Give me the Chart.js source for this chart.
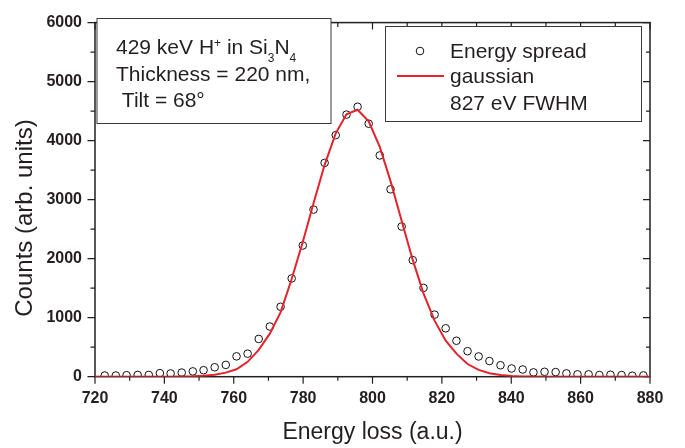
<!DOCTYPE html>
<html>
<head>
<meta charset="utf-8">
<script src="https://cdn.jsdelivr.net/npm/chart.js@4.4.1/dist/chart.umd.min.js"></script>
<style>
  html, body { margin: 0; padding: 0; background: #fff; }
  #wrap { width: 685px; height: 448px; }
</style>
</head>
<body>
<div id="wrap"><canvas id="spreadChart" width="685" height="448"></canvas></div>
<script>
const energyLoss = [722.8, 726.0, 729.1, 732.3, 735.5, 738.7, 741.8, 745.0, 748.2, 751.3,
  754.5, 757.7, 760.8, 764.0, 767.2, 770.4, 773.5, 776.7, 779.9, 783.0,
  786.2, 789.4, 792.5, 795.7, 798.9, 802.1, 805.2, 808.4, 811.6, 814.7,
  817.9, 821.1, 824.2, 827.4, 830.6, 833.7, 836.9, 840.1, 843.3, 846.4,
  849.6, 852.8, 855.9, 859.1, 862.3, 865.4, 868.6, 871.8, 874.9, 878.1];

const counts = [20, 20, 25, 30, 30, 60, 55, 70, 90, 110,
  160, 200, 345, 390, 640, 850, 1185, 1665, 2223, 2832,
  3623, 4093, 4441, 4574, 4287, 3749, 3175, 2545, 1975, 1505,
  1052, 820, 609, 432, 343, 265, 194, 139, 122, 73,
  83, 78, 56, 40, 40, 28, 33, 28, 17, 22];

// fitted gaussian, read at the same energies plus the two axis ends
const fitEnergy = [720].concat(energyLoss, [880]);
const fitCounts = [0, 0, 0, 0, 0, 0, 1, 1, 2, 6, 15,
  33, 69, 125, 252, 455, 730, 1090, 1656, 2283, 2939,
  3590, 4123, 4446, 4523, 4328, 3893, 3314, 2641, 1979, 1412,
  950, 610, 390, 215, 115, 60, 28, 12, 5, 2,
  1, 0, 0, 0, 0, 0, 0, 0, 0, 0, 0];

const xTicks = [720, 740, 760, 780, 800, 820, 840, 860, 880];
const yTicks = [0, 1000, 2000, 3000, 4000, 5000, 6000];

const ink = '#231f20';
const red = '#e3232b';
const family = '"Liberation Sans", Arial, sans-serif';

function toPoints(xs, ys) {
  return xs.map((v, i) => ({ x: v, y: ys[i] }));
}

const framePlugin = {
  id: 'frame',
  beforeDatasetsDraw(chart) {
    const { ctx, chartArea: a, scales: { x, y } } = chart;
    ctx.save();
    ctx.strokeStyle = ink;
    ctx.lineWidth = 1.5;
    ctx.strokeRect(a.left, a.top, a.right - a.left, a.bottom - a.top);

    ctx.lineWidth = 1.2;
    ctx.beginPath();
    const xStep = (xTicks[1] - xTicks[0]) / 2;
    for (let v = xTicks[0]; v <= xTicks[xTicks.length - 1]; v += xStep) {
      const px = x.getPixelForValue(v);
      const major = xTicks.includes(v);
      ctx.moveTo(px, a.bottom);
      ctx.lineTo(px, a.bottom + (major ? 7 : 4));
      ctx.moveTo(px, a.top);
      ctx.lineTo(px, a.top + (major ? 7 : 4.5));
    }
    const yStep = (yTicks[1] - yTicks[0]) / 2;
    for (let v = yTicks[0]; v <= yTicks[yTicks.length - 1]; v += yStep) {
      const py = y.getPixelForValue(v);
      const major = yTicks.includes(v);
      ctx.moveTo(a.left, py);
      ctx.lineTo(a.left - (major ? 7.5 : 4.5), py);
      ctx.moveTo(a.right, py);
      ctx.lineTo(a.right - (major ? 7 : 4), py);
    }
    ctx.stroke();
    ctx.restore();
  },
  afterDraw(chart) {
    const { ctx, chartArea: a } = chart;
    ctx.save();
    ctx.fillStyle = ink;

    // axis titles
    ctx.font = '23px ' + family;
    ctx.textAlign = 'center';
    ctx.textBaseline = 'alphabetic';
    ctx.fillText('Energy loss (a.u.)', (a.left + a.right) / 2, 438.5);
    ctx.save();
    ctx.font = '24px ' + family;
    ctx.translate(31.5, 218);
    ctx.rotate(-Math.PI / 2);
    ctx.fillText('Counts (arb. units)', 0, 0);
    ctx.restore();

    // sample description box
    ctx.textAlign = 'left';
    ctx.lineWidth = 1;
    ctx.strokeStyle = '#3a3a3a';
    ctx.fillStyle = '#fff';
    ctx.fillRect(97, 18.5, 234, 105);
    ctx.strokeRect(97, 18.5, 234, 105);
    ctx.fillStyle = ink;

    const parts = [
      { t: '429 keV H', size: 21, dy: 0 },
      { t: '+', size: 12, dy: -6.5 },
      { t: ' in Si', size: 21, dy: 0 },
      { t: '3', size: 12, dy: 8 },
      { t: 'N', size: 21, dy: 0 },
      { t: '4', size: 12, dy: 8 }
    ];
    let cx = 116;
    parts.forEach(p => {
      ctx.font = p.size + 'px ' + family;
      ctx.fillText(p.t, cx, 53.5 + p.dy);
      cx += ctx.measureText(p.t).width;
    });
    ctx.font = '21px ' + family;
    ctx.fillText('Thickness = 220 nm,', 116, 81);
    ctx.fillText(' Tilt = 68\u00b0', 116, 107);

    // legend box
    ctx.fillStyle = '#fff';
    ctx.fillRect(385.5, 26.5, 256, 95);
    ctx.strokeRect(385.5, 26.5, 256, 95);
    ctx.fillStyle = ink;

    ctx.beginPath();
    ctx.arc(420, 51, 3.8, 0, Math.PI * 2);
    ctx.strokeStyle = '#111';
    ctx.lineWidth = 1;
    ctx.stroke();

    ctx.beginPath();
    ctx.moveTo(397, 76);
    ctx.lineTo(444, 76);
    ctx.strokeStyle = red;
    ctx.lineWidth = 2;
    ctx.stroke();

    ctx.fillText('Energy spread', 450, 57.5);
    ctx.fillText('gaussian', 450, 82.5);
    ctx.fillText('827 eV FWHM', 450, 110);
    ctx.restore();
  }
};

new Chart(document.getElementById('spreadChart').getContext('2d'), {
  type: 'scatter',
  data: {
    datasets: [
      {
        label: 'gaussian',
        data: toPoints(fitEnergy, fitCounts),
        showLine: true,
        borderColor: red,
        borderWidth: 2,
        pointRadius: 0,
        tension: 0
      },
      {
        label: 'Energy spread',
        data: toPoints(energyLoss, counts),
        pointStyle: 'circle',
        pointRadius: 3.8,
        borderColor: '#111',
        borderWidth: 1,
        backgroundColor: 'rgba(0,0,0,0)'
      }
    ]
  },
  options: {
    responsive: false,
    devicePixelRatio: 1,
    animation: false,
    layout: { padding: { left: 0, top: 15, right: 35, bottom: 0 } },
    plugins: {
      legend: { display: false },
      tooltip: { enabled: false }
    },
    scales: {
      x: {
        type: 'linear',
        min: xTicks[0],
        max: xTicks[xTicks.length - 1],
        afterBuildTicks: scale => { scale.ticks = xTicks.map(v => ({ value: v })); },
        afterFit: scale => { scale.height = 448 - 376.7; },
        grid: { display: false, drawTicks: false },
        border: { display: false },
        ticks: {
          padding: 12,
          color: ink,
          maxRotation: 0,
          callback: v => String(v),
          font: { family: family, size: 16, weight: 'bold' }
        }
      },
      y: {
        type: 'linear',
        min: yTicks[0],
        max: yTicks[yTicks.length - 1],
        afterBuildTicks: scale => { scale.ticks = yTicks.map(v => ({ value: v })); },
        afterFit: scale => { scale.width = 95; },
        grid: { display: false, drawTicks: false },
        border: { display: false },
        ticks: {
          padding: 13,
          color: ink,
          callback: v => String(v),
          font: { family: family, size: 16, weight: 'bold' }
        }
      }
    }
  },
  plugins: [framePlugin]
});
</script>
</body>
</html>
